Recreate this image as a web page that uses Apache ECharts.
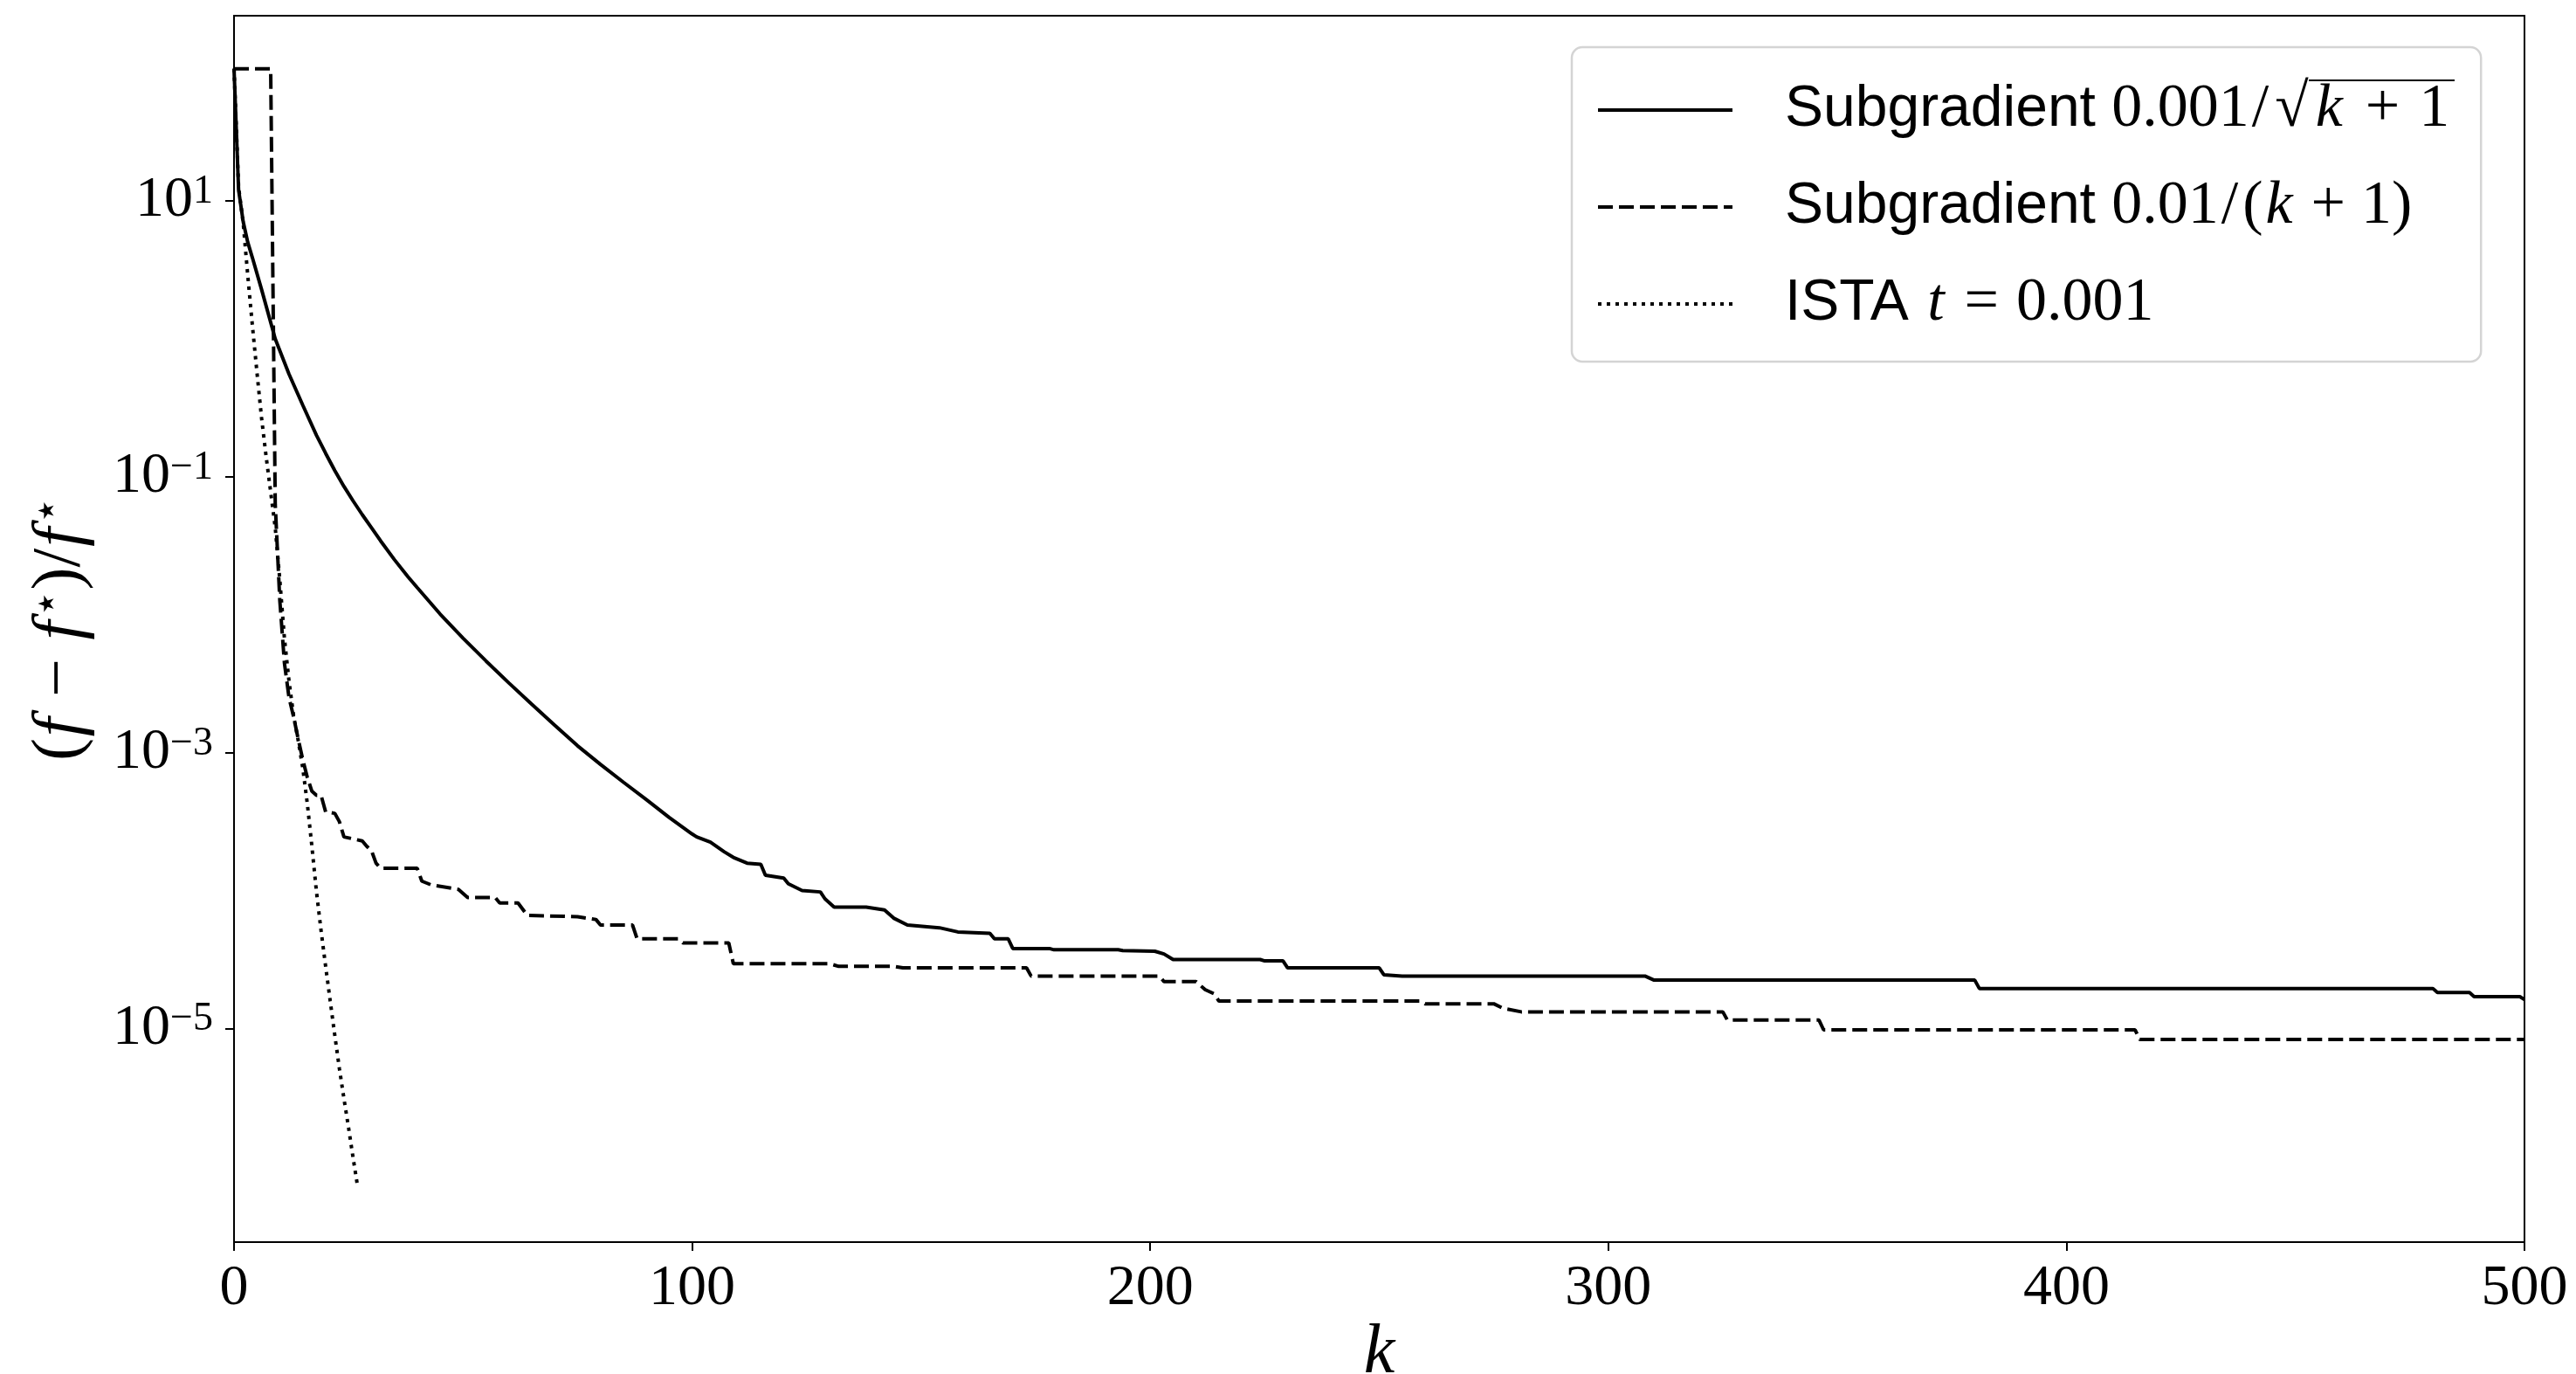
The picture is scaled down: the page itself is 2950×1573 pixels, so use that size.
<!DOCTYPE html>
<html>
<head>
<meta charset="utf-8">
<script src="https://cdn.jsdelivr.net/npm/echarts@6/dist/echarts.min.js"></script>
<style>
html,body{margin:0;padding:0;background:#ffffff;}
#chart{width:2950px;height:1573px;}
</style>
</head>
<body>
<div id="chart"></div>
<script>
// ---------- data ----------
const seriesNames = [
  'Subgradient 0.001/sqrt(k+1)',
  'Subgradient 0.01/(k+1)',
  'ISTA t=0.001'
];

// Subgradient, step 0.001/sqrt(k+1)  (solid)
const sqrtStepK = [0,1,2,3,4,6,9,12,15,18,20,22,24,26,28,30,32,35,38,40,45,50,55,60,65,70,75,80,85,90,95,100,
  101,104,107,109,112,115,116,120,121,124,128,129,131,138,142,144,147,154,158,165,166,169,170,178,179,193,194,201,203,205,224,225,229,230,250,251,255,308,310,380,381,480,481,488,489,499,500];
const sqrtStepVal = [91,12.0,7.08,5.01,3.89,2.29,1.0,0.556,0.331,0.200,0.148,0.111,0.0851,0.0668,0.0531,0.0427,0.0343,0.0251,0.0188,0.0157,0.0101,0.00676,0.00462,0.00320,0.00224,0.00158,0.00112,8.22e-4,6.10e-4,4.57e-4,3.39e-4,2.57e-4,
  2.45e-4,2.24e-4,1.91e-4,1.74e-4,1.58e-4,1.55e-4,1.29e-4,1.23e-4,1.12e-4,1.00e-4,9.77e-5,8.71e-5,7.59e-5,7.59e-5,7.24e-5,6.31e-5,5.62e-5,5.37e-5,5.01e-5,4.90e-5,4.47e-5,4.47e-5,3.80e-5,3.80e-5,3.72e-5,3.72e-5,3.67e-5,3.63e-5,3.47e-5,3.16e-5,3.16e-5,3.09e-5,3.09e-5,2.75e-5,2.75e-5,2.45e-5,2.40e-5,2.40e-5,2.24e-5,2.24e-5,1.95e-5,1.95e-5,1.82e-5,1.82e-5,1.70e-5,1.70e-5,1.62e-5];

// Subgradient, step 0.01/(k+1)  (dashed)
const invStepK = [0,8,9,10,11,12,13,14,15,16,17,18,19,20,22,23,24,28,29,30,31,32,40,41,43,49,51,57,58,62,64,75,79,80,87,88,97,98,108,109,130,132,144,146,173,174,202,203,210,212,214,215,259,260,275,277,281,325,326,346,347,415,416,500];
const invStepVal = [91,91,0.0631,0.0126,0.00447,0.00251,0.00182,0.00126,8.91e-4,6.61e-4,5.25e-4,4.90e-4,4.90e-4,3.72e-4,3.63e-4,3.16e-4,2.45e-4,2.29e-4,2.09e-4,1.95e-4,1.58e-4,1.45e-4,1.45e-4,1.17e-4,1.10e-4,1.02e-4,8.91e-5,8.91e-5,8.13e-5,8.13e-5,6.61e-5,6.46e-5,6.17e-5,5.62e-5,5.62e-5,4.47e-5,4.47e-5,4.17e-5,4.17e-5,2.95e-5,2.95e-5,2.82e-5,2.82e-5,2.75e-5,2.75e-5,2.40e-5,2.40e-5,2.19e-5,2.19e-5,1.91e-5,1.78e-5,1.58e-5,1.58e-5,1.51e-5,1.51e-5,1.40e-5,1.32e-5,1.32e-5,1.15e-5,1.15e-5,9.77e-6,9.77e-6,8.32e-6,8.32e-6];

// ISTA t = 0.001  (dotted)
const istaK = [0,1,2,3,4,5,6,7,8,9,10,11,12,13,14,15,16,17,18,19,20,21,22,23,24,25,26,27];
const istaVal = [91,12.6,6.92,2.88,1.26,0.575,0.269,0.141,0.0776,0.0427,0.0178,0.00676,0.00331,0.00186,0.00123,7.76e-4,4.27e-4,2.09e-4,9.77e-5,5.13e-5,2.82e-5,1.58e-5,8.91e-6,5.13e-6,3.09e-6,1.91e-6,1.15e-6,7.08e-7];

// axes
const xTickValues = [0,100,200,300,400,500];
const yTickValues = [1e1, 1e-1, 1e-3, 1e-5];
const yMin = Math.pow(10, -6.549);
const yMax = Math.pow(10, 2.343);

// ---------- chart ----------
function pairs(ks, vs){ return ks.map((k,i)=>[k, vs[i]]); }

const serif = 'Liberation Serif';
const sans = 'Liberation Sans';
const FS = 66;   // sans text / tick labels
const MFS = 70;  // math in legend

// overline image for the square root
const ovCanvas = document.createElement('canvas');
ovCanvas.width = 4; ovCanvas.height = 200;
(function(){ const g = ovCanvas.getContext('2d'); g.fillStyle = '#000'; g.fillRect(0,0,4,6); })();

const legendText = {};
legendText[seriesNames[0]] = '{sl|Subgradient }{m|0.001}{sls|/}{sq|√}{ovi|k}{ovp|+}{ov|1}';
legendText[seriesNames[1]] = '{sl|Subgradient }{m|0.01}{sls|/}{m|(}{mi|k}{mp|+}{m|1)}';
legendText[seriesNames[2]] = '{sl|ISTA }{mi|t}{meq|=}{m|0.001}';

const chart = echarts.init(document.getElementById('chart'), null, {renderer: 'canvas'});

const lineBase = {type: 'line', showSymbol: false, symbol: 'none', animation: false, silent: true, clip: true};
const LW = 4;

chart.setOption({
  animation: false,
  backgroundColor: '#ffffff',
  grid: {left: 268, right: 59, top: 18, bottom: 151, show: true, borderColor: '#000', borderWidth: 2,
         containLabel: false, outerBoundsMode: 'none'},
  xAxis: {
    type: 'value', min: 0, max: 500, interval: 100,
    name: 'k', nameLocation: 'middle', nameGap: 88, nameMoveOverlap: false,
    nameTextStyle: {fontFamily: serif, fontStyle: 'italic', fontSize: 80, color: '#000'},
    axisLine: {show: true, lineStyle: {color: '#000', width: 2}},
    axisTick: {show: true, length: 10, lineStyle: {color: '#000', width: 2}},
    axisLabel: {fontFamily: serif, fontSize: FS, color: '#000', margin: 21},
    splitLine: {show: false}
  },
  yAxis: {
    type: 'log', logBase: 10, min: yMin, max: yMax,
    name: '{p|(}{i|f}{p| − }{i|f}{s|⋆}{p|)/}{i|f}{s|⋆}',
    nameLocation: 'middle', nameGap: 159, nameRotate: 90, nameMoveOverlap: false,
    nameTextStyle: {
      color: '#000', fontFamily: serif, fontSize: 78,
      richInheritPlainLabel: false,
      rich: {
        p: {fontFamily: serif, fontSize: 78, lineHeight: 78, verticalAlign: 'bottom', color: '#000'},
        i: {fontFamily: serif, fontStyle: 'italic', fontSize: 78, lineHeight: 78, verticalAlign: 'bottom', color: '#000', padding: [0, 4, 0, 2]},
        s: {fontFamily: 'DejaVu Sans', fontSize: 50, lineHeight: 34, verticalAlign: 'top', color: '#000'}
      }
    },
    axisLine: {show: true, lineStyle: {color: '#000', width: 2}},
    axisTick: {show: true, length: 10, customValues: yTickValues, lineStyle: {color: '#000', width: 2}},
    minorTick: {show: false},
    axisLabel: {
      customValues: yTickValues,
      margin: 24,
      formatter: function(v){
        const e = Math.round(Math.log10(v));
        return '{b|10}{s|' + (e < 0 ? '−' + (-e) : String(e)) + '}';
      },
      rich: {
        b: {fontFamily: serif, fontSize: FS, lineHeight: FS, verticalAlign: 'bottom', color: '#000'},
        s: {fontFamily: serif, fontSize: 46, lineHeight: 30, verticalAlign: 'top', color: '#000'}
      }
    },
    splitLine: {show: false}
  },
  legend: {
    show: true,
    left: 1800, top: 54,
    orient: 'vertical',
    align: 'left',
    itemWidth: 154, itemHeight: 20, itemGap: 41,
    padding: [37, 30, 31, 28],
    backgroundColor: 'rgba(255,255,255,0.8)',
    borderColor: '#d4d4d4', borderWidth: 2.5, borderRadius: 12,
    selectedMode: false,
    itemStyle: {opacity: 0},
    lineStyle: {width: LW},
    data: seriesNames,
    formatter: function(name){ return legendText[name]; },
    textStyle: {
      color: '#000',
      rich: {
        sl: {fontFamily: sans, fontSize: FS, lineHeight: MFS, color: '#000', padding: [0, 0, 0, 55]},
        m: {fontFamily: serif, fontSize: MFS, lineHeight: MFS, color: '#000'},
        mi: {fontFamily: serif, fontStyle: 'italic', fontSize: MFS, lineHeight: MFS, color: '#000', padding: [0, 3, 0, 3]},
        sls: {fontFamily: serif, fontSize: MFS, lineHeight: MFS, color: '#000', padding: [0, 5, 0, 3]},
        sq: {fontFamily: serif, fontSize: MFS, lineHeight: MFS, color: '#000', padding: [0, 0, 0, 2]},
        mp: {fontFamily: serif, fontSize: MFS, lineHeight: MFS, color: '#000', padding: [0, 18, 0, 18]},
        meq: {fontFamily: serif, fontSize: MFS, lineHeight: MFS, color: '#000', padding: [0, 20, 0, 20]},
        ovi: {fontFamily: serif, fontStyle: 'italic', fontSize: MFS, lineHeight: MFS, color: '#000', padding: [0, 4, 0, 8], backgroundColor: {image: ovCanvas}},
        ovp: {fontFamily: serif, fontSize: MFS, lineHeight: MFS, color: '#000', padding: [0, 22, 0, 22], backgroundColor: {image: ovCanvas}},
        ov: {fontFamily: serif, fontSize: MFS, lineHeight: MFS, color: '#000', padding: [0, 6, 0, 0], backgroundColor: {image: ovCanvas}}
      }
    }
  },
  series: [
    Object.assign({}, lineBase, {
      name: seriesNames[0], data: pairs(sqrtStepK, sqrtStepVal), z: 3,
      lineStyle: {color: '#000', width: LW, type: 'solid', cap: 'butt'}
    }),
    Object.assign({}, lineBase, {
      name: seriesNames[1], data: pairs(invStepK, invStepVal), z: 2,
      lineStyle: {color: '#000', width: LW, type: [17, 7], cap: 'butt'}
    }),
    Object.assign({}, lineBase, {
      name: seriesNames[2], data: pairs(istaK, istaVal), z: 1,
      lineStyle: {color: '#000', width: LW, type: [4, 6], cap: 'butt'}
    })
  ]
});
</script>
</body>
</html>
